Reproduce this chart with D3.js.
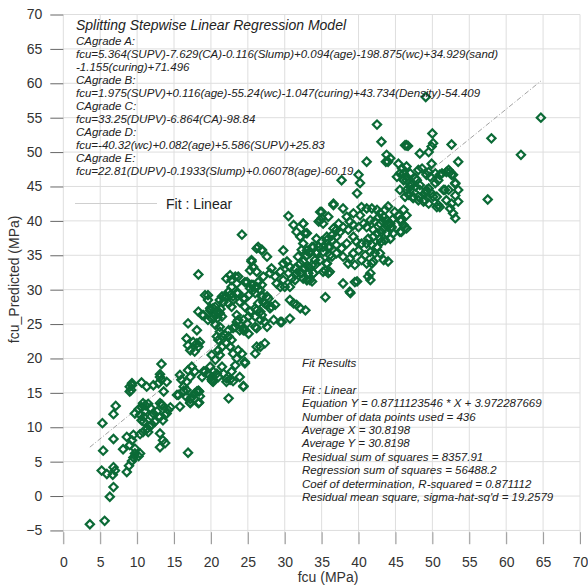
<!DOCTYPE html>
<html>
<head>
<meta charset="utf-8">
<script src="https://cdn.jsdelivr.net/npm/d3@7"></script>
<style>
  html, body { margin: 0; padding: 0; background: #fff; }
  svg { display: block; font-family: "Liberation Sans", Arial, sans-serif; }
</style>
</head>
<body>
<svg id="chart" width="588" height="586"></svg>
<script>
// Measured fcu (MPa) vs. predicted fcu (MPa), one pair per specimen
const points = [
  [3.6,-4.1],[5.6,-3.6],[6.3,-0.1],[6.8,1.3],[5.2,3.7],[5.9,3.2],[6.8,4.2],[7.0,3.7],[6.7,3.1],[8.6,3.5],
  [8.9,4.4],[9.3,5.1],[9.5,5.6],[9.7,6.2],[10.2,5.8],[10.4,6.2],[5.4,6.6],[6.8,8.3],[8.1,6.8],[8.6,8.6],
  [9.0,7.4],[9.3,8.1],[9.7,6.9],[9.5,8.9],[5.3,10.6],[6.8,11.9],[7.1,13.1],[10.4,9.0],[10.8,9.3],[11.3,9.7],
  [11.7,10.1],[12.0,10.4],[11.5,9.3],[9.7,12.0],[10.2,12.6],[10.6,12.9],[11.1,13.2],[11.5,13.4],[10.4,11.8],[10.9,11.5],
  [10.9,10.8],[10.6,11.0],[12.2,12.0],[12.7,12.3],[13.1,11.5],[13.3,13.3],[13.5,11.0],[13.8,11.8],[14.0,12.0],[14.2,12.5],
  [13.1,9.1],[13.5,8.1],[13.8,7.7],[13.1,7.1],[14.5,12.9],[15.8,13.0],[15.4,14.7],[16.3,15.3],[16.7,14.4],[17.2,14.1],
  [17.8,14.9],[18.3,15.3],[17.2,13.5],[18.3,13.5],[16.9,6.3],[9.0,15.9],[9.3,16.4],[9.0,15.2],[10.6,16.5],[11.3,15.9],
  [12.2,16.1],[12.9,16.4],[13.1,17.3],[13.3,16.9],[14.0,16.6],[13.1,17.7],[15.8,17.6],[16.0,16.9],[17.2,17.3],[16.9,18.3],
  [17.8,18.1],[19.0,18.1],[20.1,17.3],[20.3,16.6],[20.8,17.8],[10.8,13.5],[13.4,13.2],[17.2,13.6],[18.4,13.6],[18.4,15.2],
  [22.4,14.2],[24.4,16.0],[20.2,16.7],[22.1,16.6],[23.0,16.7],[16.7,15.4],[15.6,14.7],[13.6,15.2],[9.3,16.1],[9.2,15.4],
  [13.1,13.5],[11.0,12.3],[11.8,12.8],[12.4,10.8],[11.9,11.6],
  [18.3,32.2],[19.6,29.2],[18.3,26.8],[18.8,26.3],[16.9,25.1],[18.1,24.1],[19.9,27.0],[20.3,27.3],[20.8,26.8],[20.6,26.3],
  [20.1,25.8],[21.2,26.6],[16.7,22.9],[16.9,21.9],[17.2,21.2],[17.6,22.4],[18.1,22.2],[18.5,22.4],[18.3,21.7],[17.8,21.0],
  [17.4,18.8],[16.7,16.6],[16.3,15.9],[13.3,19.2],[18.1,15.2],[17.4,14.4],[18.5,14.5],[19.9,18.8],[20.1,16.9],[19.6,17.8],
  [20.3,18.1],[19.2,18.1],[18.8,17.3],[20.6,19.8],[20.1,20.5],[21.0,21.2],[21.5,21.7],[21.2,20.5],[20.8,23.2],[21.0,22.7],
  [21.5,23.2],[21.2,23.9],[21.9,23.4],[22.4,23.2],[22.1,22.2],[22.6,21.7],[22.8,22.7],[23.0,20.7],[23.5,20.0],[23.3,19.0],
  [22.8,18.1],[21.7,17.8],[21.5,18.8],[21.0,17.3],[22.1,17.1],[22.6,16.9],[24.4,15.9],[24.6,19.3],[24.2,20.7],[23.7,21.2],
  [23.3,24.6],[23.7,25.6],[23.9,24.1],[24.4,24.4],[24.9,25.1],[24.6,24.1],[25.1,23.6],[23.5,26.3],[22.8,27.5],[22.4,28.0],
  [22.1,29.0],[22.6,29.2],[23.0,28.5],[23.5,29.5],[23.9,28.2],[24.6,28.7],[25.1,29.2],[25.3,30.2],[25.7,30.7],[26.2,30.4],
  [26.0,29.5],[26.7,29.9],[26.9,29.0],[26.4,28.0],[26.2,27.0],[26.0,26.1],[26.9,26.3],[27.3,28.0],[27.6,29.0],[26.9,30.7],
  [27.1,31.9],[26.2,32.6],[25.7,33.3],[25.5,34.3],[26.2,36.0],[26.9,35.8],[27.6,34.8],[24.6,31.1],[23.7,31.9],[22.6,32.1],
  [21.5,29.0],[21.7,28.2],[26.2,21.7],[26.0,20.7],[26.7,21.7],[27.3,22.2],[20.9,25.9],[21.3,27.2],[20.4,26.0],
  [24.2,38.0],[26.4,36.2],[26.9,35.7],[30.5,40.7],[31.2,39.4],[31.6,38.4],[32.5,39.6],[33.0,38.2],[32.1,37.7],[29.8,35.7],
  [25.5,34.1],[25.7,33.3],[25.3,32.8],[28.2,33.1],[28.0,32.4],[28.7,31.9],[29.4,32.6],[29.8,33.8],[30.3,34.1],[30.7,33.3],
  [30.5,32.4],[30.9,31.6],[29.8,31.4],[29.4,30.4],[30.0,30.4],[28.9,30.9],[30.7,30.4],[31.4,31.4],[31.6,32.4],[31.4,33.1],
  [32.1,33.8],[32.5,34.1],[32.7,33.1],[32.1,32.4],[32.5,31.6],[33.0,31.4],[33.4,31.4],[33.2,32.4],[33.9,32.4],[33.7,33.6],
  [34.1,34.3],[34.3,35.3],[34.6,36.2],[33.9,36.2],[33.4,35.5],[33.0,35.0],[32.3,35.8],[31.8,34.8],[19.2,29.2],[19.6,28.5],
  [19.9,27.3],[20.6,27.5],[20.3,26.6],[21.0,26.8],[21.5,26.1],[21.2,28.5],[21.9,29.0],[22.1,31.6],[22.8,31.4],[23.3,31.9],
  [23.5,30.9],[22.8,30.4],[22.4,29.7],[23.0,29.0],[23.7,29.5],[24.4,28.7],[24.6,27.5],[24.9,31.1],[25.5,30.7],[25.7,29.9],
  [26.0,30.4],[26.4,31.1],[26.9,29.2],[27.1,28.2],[27.6,27.8],[27.8,28.7],[28.0,27.3],[28.2,27.5],[28.7,27.8],[26.7,26.8],
  [26.0,27.3],[25.3,26.8],[25.1,26.1],[24.4,25.6],[23.5,25.3],[23.0,24.4],[22.4,24.1],[21.2,24.6],[20.6,24.9],[19.6,25.6],
  [19.0,26.3],[27.3,25.3],[26.7,25.6],[26.2,24.4],[27.6,24.6],[28.5,25.6],[29.6,25.3],[30.7,28.5],[31.2,28.0],[31.6,27.8],
  [32.1,27.3],[32.8,27.0],[30.7,25.8],[35.5,28.9],[38.9,29.5],[29.4,25.3],[26.0,24.6],[24.4,24.1],[24.6,19.5],[23.9,17.3],
  [35.0,41.3],[34.8,40.1],[35.9,40.6],[36.6,42.3],[37.0,38.7],[36.4,37.9],[35.7,37.2],[35.2,36.2],[36.1,36.2],[36.4,34.8],
  [35.7,33.8],[35.5,32.8],[37.0,36.5],[35.9,32.4],
  [43.1,51.5],[46.5,51.0],[48.3,49.8],[49.5,50.0],[49.9,50.8],[41.1,48.6],[43.8,49.6],[44.0,48.6],[44.3,49.1],[45.4,48.3],
  [45.9,47.6],[45.6,46.9],[45.2,46.4],[46.1,45.9],[46.5,46.4],[47.0,46.9],[47.7,46.2],[48.1,47.4],[48.6,47.6],[49.5,47.1],
  [49.9,48.3],[50.4,46.9],[50.4,45.5],[49.5,44.7],[49.0,44.0],[49.9,44.0],[50.6,43.5],[48.3,44.5],[47.7,45.0],[47.0,45.0],
  [46.5,44.5],[46.8,43.8],[47.4,43.3],[48.1,43.0],[48.8,42.8],[49.5,42.5],[50.6,42.0],[37.7,45.9],[40.0,46.7],[40.2,45.5],
  [39.8,44.0],[36.6,42.5],[34.8,41.3],[35.0,40.4],[35.2,39.6],[34.6,39.9],
  [37.9,41.8],[38.4,40.6],[39.3,41.1],[40.2,40.8],[40.4,42.0],[41.1,41.8],[41.8,41.8],[42.5,41.6],[42.9,41.1],[43.4,40.6],
  [43.6,41.6],[44.0,42.1],[43.8,40.1],[44.3,39.6],[44.5,39.1],[44.9,41.3],[45.4,40.8],[45.6,40.1],[46.1,39.4],[46.5,38.9],
  [45.6,38.4],[44.7,38.2],[43.4,38.9],[42.9,39.6],[42.2,39.9],[41.6,40.1],[41.1,39.1],[42.0,38.7],[42.5,38.2],[43.1,38.4],
  [43.8,38.2],[44.3,37.4],[43.6,37.2],[42.9,37.4],[42.0,37.7],[41.3,37.4],[41.1,36.7],[41.8,36.5],[42.5,36.2],[43.1,37.0],
  [40.7,39.6],[40.0,39.1],[39.3,39.4],[38.8,39.9],[38.6,38.7],[39.3,37.7],[39.7,37.0],[40.4,36.7],[40.0,35.7],[39.3,35.3],
  [38.8,34.5],[38.6,33.8],[39.5,33.6],[40.4,34.3],[40.9,35.0],[41.6,35.5],[42.2,35.3],[42.9,35.3],[43.4,34.3],[44.0,34.1],
  [41.8,33.8],[41.1,33.8],[41.6,32.4],[41.3,31.9],[39.5,31.1],[38.8,29.7],[37.9,30.9],[33.0,31.4],[33.7,31.2],[32.3,32.4],
  [32.5,33.1],[33.2,33.3],[34.1,33.6],[34.8,34.3],[35.7,33.8],[36.1,32.6],[35.2,32.6],[33.9,32.4],[35.9,36.2],[36.4,37.2],
  [37.0,37.7],[37.5,38.4],[37.9,39.1],[37.3,39.6],[36.6,38.9],[35.7,37.7],[35.0,37.0],[34.3,37.4],[33.7,36.2],[33.0,35.7],
  [32.5,36.7],[32.7,38.2],[32.5,39.6],[33.4,35.3],[34.3,35.5],[35.2,35.5],[36.1,35.0],[37.0,35.3],[37.7,36.0],[38.4,36.7],
  [37.9,34.8],[39.8,31.2],[41.6,31.4],[42.0,34.1],[44.0,39.5],[44.6,40.2],[43.2,40.0],[44.4,38.9],[43.9,39.2],[42.7,40.5],
  [49.1,58.0],[64.7,55.0],[58.0,52.0],[62.0,49.6],[57.5,43.1],[50.0,52.7],[52.6,51.1],[53.5,48.6],[46.3,51.0],[46.7,50.9],
  [50.1,51.3],[52.2,47.4],[51.3,46.9],[50.8,45.9],[51.7,44.5],[52.6,46.7],[53.1,45.5],[53.5,44.5],[53.1,43.7],[52.6,42.5],
  [53.5,42.8],[52.4,41.8],[52.8,41.1],[53.1,40.4],[50.8,42.3],[51.0,42.0],[50.1,43.5],[49.0,43.0],[49.2,44.5],[48.3,45.2],
  [47.2,45.2],[47.9,45.9],[49.7,46.4],[46.5,47.9],[46.1,46.9],[46.5,45.9],[47.0,44.5],[47.4,43.5],[46.3,43.5],[45.6,44.5],
  [46.1,41.6],[46.5,40.8],[45.8,40.1],[46.3,39.1],[45.8,38.4],[42.5,54.0],[43.7,48.6],[51.9,43.0],[52.2,44.5],[51.5,44.5],
  [51.0,46.7],[51.9,47.1],[52.4,47.1],[52.8,46.7],[53.1,45.4],[49.2,46.7],[48.1,43.5],[49.2,44.2]
];

// Linear fit of predicted on measured
const fitSlope = 0.8711123546;
const fitIntercept = 3.972287669;

const xTicks = d3.range(0, 71, 5);
const yTicks = d3.range(-5, 71, 5);

const xTitle = "fcu (MPa)";
const yTitle = "fcu_Predicted (MPa)";
const legendLabel = "Fit : Linear";

const modelTitle = "Splitting Stepwise Linear Regression Model";
const modelLines = [
  "CAgrade A:",
  "fcu=5.364(SUPV)-7.629(CA)-0.116(Slump)+0.094(age)-198.875(wc)+34.929(sand)",
  "-1.155(curing)+71.496",
  "CAgrade B:",
  "fcu=1.975(SUPV)+0.116(age)-55.24(wc)-1.047(curing)+43.734(Density)-54.409",
  "CAgrade C:",
  "fcu=33.25(DUPV)-6.864(CA)-98.84",
  "CAgrade D:",
  "fcu=-40.32(wc)+0.082(age)+5.586(SUPV)+25.83",
  "CAgrade E:",
  "fcu=22.81(DUPV)-0.1933(Slump)+0.06078(age)-60.19"
];

const fitResults = [
  "Fit Results",
  "",
  "Fit : Linear",
  "Equation Y = 0.8711123546 * X + 3.972287669",
  "Number of data points used = 436",
  "Average X = 30.8198",
  "Average Y = 30.8198",
  "Residual sum of squares = 8357.91",
  "Regression sum of squares = 56488.2",
  "Coef of determination, R-squared = 0.871112",
  "Residual mean square, sigma-hat-sq'd = 19.2579"
];

const svg = d3.select("#chart");
const plot = { left: 63.3, right: 580, top: 14.5, bottom: 544.2 };

const x = d3.scaleLinear().domain([0, 70]).range([plot.left, plot.right]);
const y = d3.scaleLinear().domain([-7, 70]).range([plot.bottom, plot.top]);

// grid
const grid = svg.append("g").attr("stroke", "#dedede").attr("stroke-width", 1);
grid.selectAll("line.v").data(xTicks).join("line")
  .attr("class", "v")
  .attr("x1", d => x(d)).attr("x2", d => x(d))
  .attr("y1", plot.top).attr("y2", plot.bottom);
grid.selectAll("line.h").data(yTicks).join("line")
  .attr("class", "h")
  .attr("x1", plot.left).attr("x2", plot.right)
  .attr("y1", d => y(d)).attr("y2", d => y(d));

// axes
const yAxis = svg.append("g")
  .attr("transform", `translate(${plot.left},0)`)
  .call(d3.axisLeft(y).tickValues(yTicks).tickSize(13).tickPadding(8).tickFormat(d3.format("d")));
yAxis.select(".domain").remove();
yAxis.selectAll(".tick line").attr("stroke", "#666");
yAxis.selectAll(".tick text").attr("font-size", 14).attr("fill", "#333")
  .attr("font-family", "'Liberation Sans', Arial, sans-serif");

const xAxis = svg.append("g")
  .attr("transform", `translate(0,${plot.bottom})`)
  .call(d3.axisBottom(x).tickValues(xTicks).tickSize(-12).tickPadding(13).tickFormat(d3.format("d")));
xAxis.select(".domain").remove();
xAxis.selectAll(".tick line").attr("stroke", "#999");
xAxis.selectAll(".tick text").attr("font-size", 14).attr("fill", "#333")
  .attr("font-family", "'Liberation Sans', Arial, sans-serif");

// axis titles
svg.append("text")
  .attr("x", 328).attr("y", 582)
  .attr("text-anchor", "middle").attr("font-size", 14).attr("fill", "#333")
  .text(xTitle);
svg.append("text")
  .attr("transform", `translate(19,${(plot.top + plot.bottom) / 2}) rotate(-90)`)
  .attr("text-anchor", "middle").attr("font-size", 14).attr("fill", "#333")
  .text(yTitle);

// fitted line over the measured range
const xExtent = d3.extent(points, d => d[0]);
svg.append("line")
  .attr("x1", x(xExtent[0])).attr("y1", y(fitSlope * xExtent[0] + fitIntercept))
  .attr("x2", x(xExtent[1])).attr("y2", y(fitSlope * xExtent[1] + fitIntercept))
  .attr("stroke", "#8a8a8a").attr("stroke-width", 0.8)
  .attr("stroke-dasharray", "5,2,1,2");

// points
svg.append("g").selectAll("path").data(points).join("path")
  .attr("d", d3.symbol().type(d3.symbolSquare).size(34))
  .attr("transform", d => `translate(${x(d[0])},${y(d[1])}) rotate(45)`)
  .attr("fill", "none").attr("stroke", "#0b6a36").attr("stroke-width", 2.2);

// model equations
const model = svg.append("g").attr("font-style", "italic").attr("fill", "#222");
model.append("text").attr("x", 76).attr("y", 30).attr("font-size", 14).text(modelTitle);
model.selectAll("text.eq").data(modelLines).join("text")
  .attr("class", "eq")
  .attr("x", 76).attr("y", (d, i) => 44.5 + i * 13)
  .attr("font-size", 11.5)
  .text(d => d);

// legend
svg.append("line")
  .attr("x1", 75).attr("x2", 157).attr("y1", 203.5).attr("y2", 203.5)
  .attr("stroke", "#cfcfcf").attr("stroke-width", 1);
svg.append("text")
  .attr("x", 166).attr("y", 208.5).attr("font-size", 14).attr("fill", "#222")
  .text(legendLabel);

// fit summary
svg.append("g").attr("font-style", "italic").attr("fill", "#222")
  .selectAll("text").data(fitResults).join("text")
  .attr("x", 302).attr("y", (d, i) => 367 + i * 13.4)
  .attr("font-size", 11.5)
  .text(d => d);
</script>
</body>
</html>
